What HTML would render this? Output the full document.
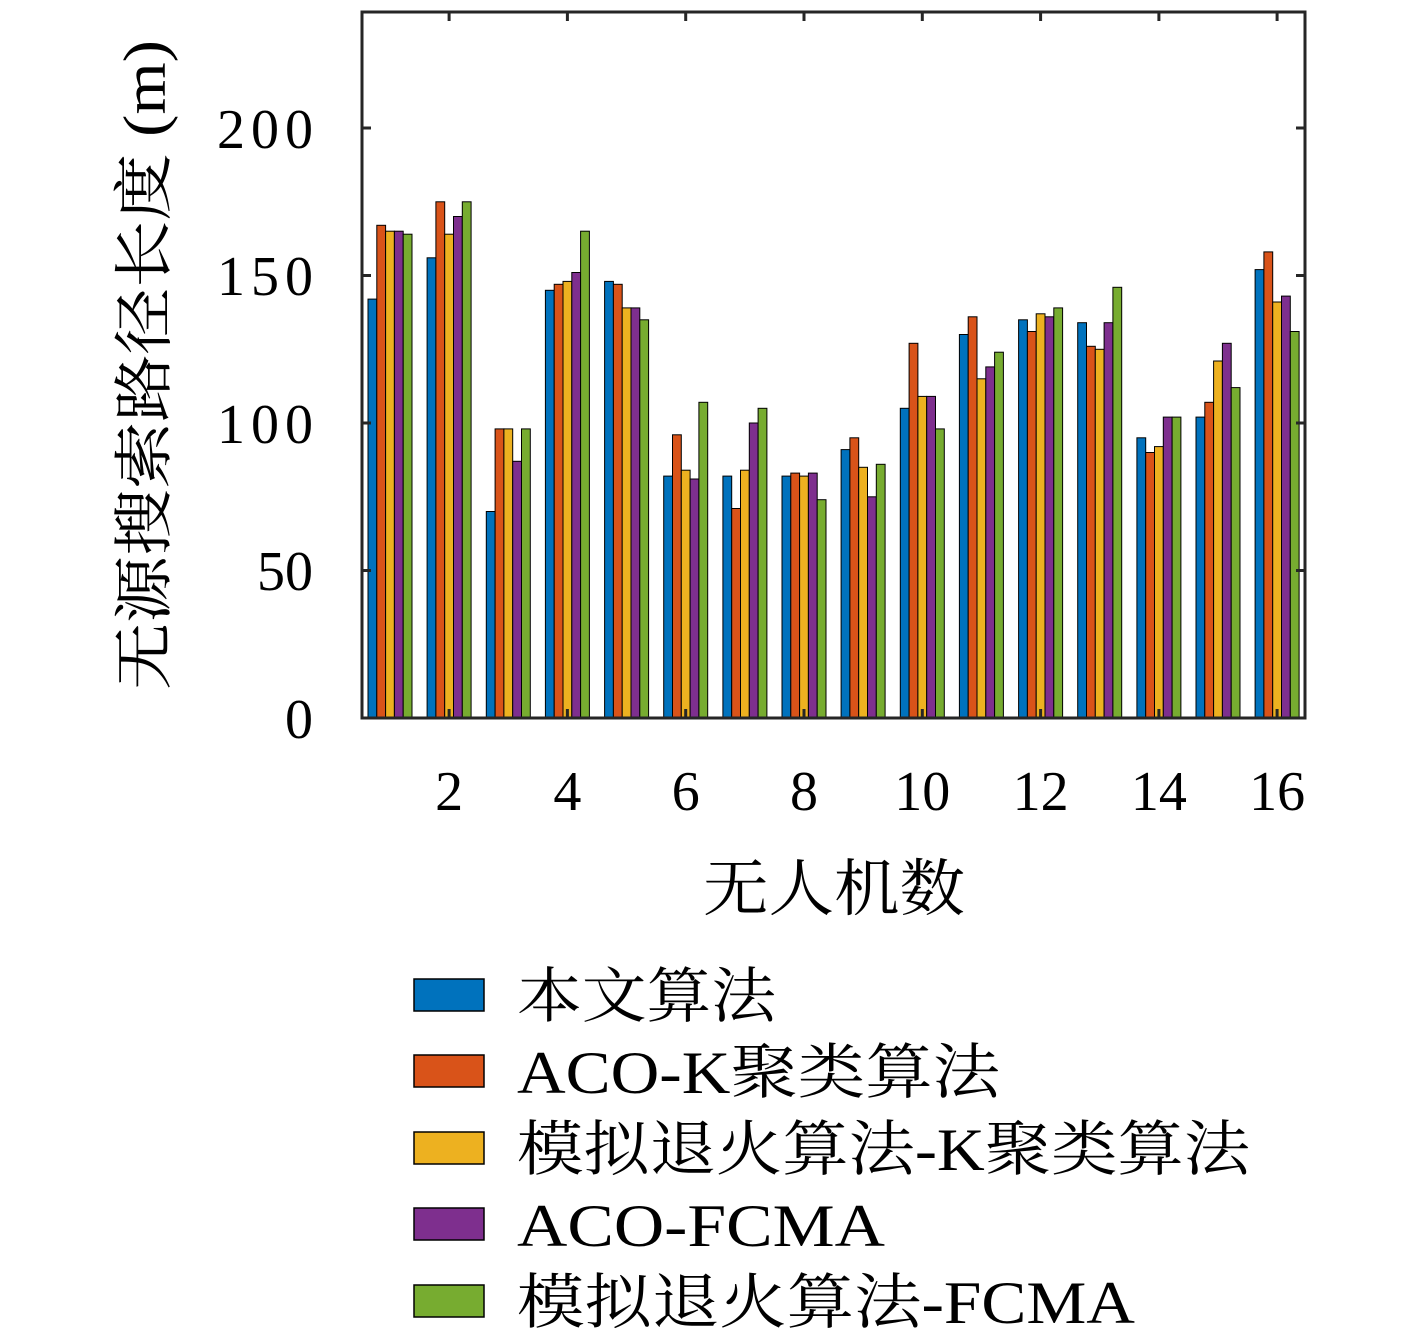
<!DOCTYPE html>
<html><head><meta charset="utf-8"><style>
html,body{margin:0;padding:0;background:#fff}
text{font-family:"Liberation Serif","Noto Serif CJK SC","Noto Sans CJK SC",serif}
</style></head><body>
<svg width="1417" height="1337" xmlns="http://www.w3.org/2000/svg" id="s">
<rect width="1417" height="1337" fill="#fff"/>
<g id="bars"></g>
<rect x="362" y="12" width="943" height="706" fill="none" stroke="#262626" stroke-width="3"/>
<g stroke="#262626" stroke-width="3">
<line x1="362" y1="570.5" x2="371" y2="570.5"/><line x1="362" y1="423" x2="371" y2="423"/><line x1="362" y1="275.5" x2="371" y2="275.5"/><line x1="362" y1="128" x2="371" y2="128"/>
<line x1="1305" y1="570.5" x2="1296" y2="570.5"/><line x1="1305" y1="423" x2="1296" y2="423"/><line x1="1305" y1="275.5" x2="1296" y2="275.5"/><line x1="1305" y1="128" x2="1296" y2="128"/>
</g>
<g font-size="56" text-anchor="end" fill="#000">
<text x="313" y="738">0</text><text x="313" y="590">50</text><text x="313" y="443" textLength="96">100</text><text x="313" y="295" textLength="96">150</text><text x="313" y="148" textLength="96">200</text>
</g>
<g font-size="56" text-anchor="middle" fill="#000" id="xl"></g>
<text transform="translate(165,365) rotate(-90)" font-size="60" text-anchor="middle" textLength="650" lengthAdjust="spacingAndGlyphs">无源搜索路径长度 (m)</text>
<text x="834" y="910" font-size="62" text-anchor="middle" textLength="262" lengthAdjust="spacingAndGlyphs">无人机数</text>
<g stroke="#000" stroke-width="1.5">
<rect x="414" y="979" width="70" height="32" fill="#0072BD"/>
<rect x="414" y="1055" width="70" height="32" fill="#D95319"/>
<rect x="414" y="1132" width="70" height="32" fill="#EDB120"/>
<rect x="414" y="1208" width="70" height="32" fill="#7E2F8E"/>
<rect x="414" y="1285" width="70" height="32" fill="#77AC30"/>
</g>
<g font-size="60" fill="#000" lengthAdjust="spacingAndGlyphs">
<text x="517" y="1017" textLength="259" lengthAdjust="spacingAndGlyphs">本文算法</text>
<text x="517" y="1093" textLength="483" lengthAdjust="spacingAndGlyphs">ACO-K聚类算法</text>
<text x="517" y="1170" textLength="733" lengthAdjust="spacingAndGlyphs">模拟退火算法-K聚类算法</text>
<text x="517" y="1246" textLength="368" lengthAdjust="spacingAndGlyphs">ACO-FCMA</text>
<text x="517" y="1323" textLength="618" lengthAdjust="spacingAndGlyphs">模拟退火算法-FCMA</text>
</g>
</svg>
<script>
var d=[[142,167,165,165,164],[156,175,164,170,175],[70,98,98,87,98],[145,147,148,151,165],[148,147,139,139,135],[82,96,84,81,107],[82,71,84,100,105],[82,83,82,83,74],[91,95,85,75,86],[105,127,109,109,98],[130,136,115,119,124],[135,131,137,136,139],[134,126,125,134,146],[95,90,92,102,102],[102,107,121,127,112],[152,158,141,143,131]];
var c=["#0072BD","#D95319","#EDB120","#7E2F8E","#77AC30"];
var g=document.getElementById("bars"),xl=document.getElementById("xl");
var s="",t="";
for(var i=0;i<16;i++){var cx=390+i*59.143;
for(var j=0;j<5;j++){var h=d[i][j]*2.95;var x=cx-22+j*8.8;
s+='<rect x="'+x.toFixed(1)+'" y="'+(718-h).toFixed(1)+'" width="8.8" height="'+h.toFixed(1)+'" fill="'+c[j]+'" stroke="#000" stroke-width="1"/>';}
if((i+1)%2==0){s+='<line x1="'+cx.toFixed(1)+'" y1="718" x2="'+cx.toFixed(1)+'" y2="709" stroke="#262626" stroke-width="3"/><line x1="'+cx.toFixed(1)+'" y1="12" x2="'+cx.toFixed(1)+'" y2="21" stroke="#262626" stroke-width="3"/>';
t+='<text x="'+cx.toFixed(1)+'" y="810">'+(i+1)+'</text>';}}
g.innerHTML=s;xl.innerHTML=t;
</script>
</body></html>
